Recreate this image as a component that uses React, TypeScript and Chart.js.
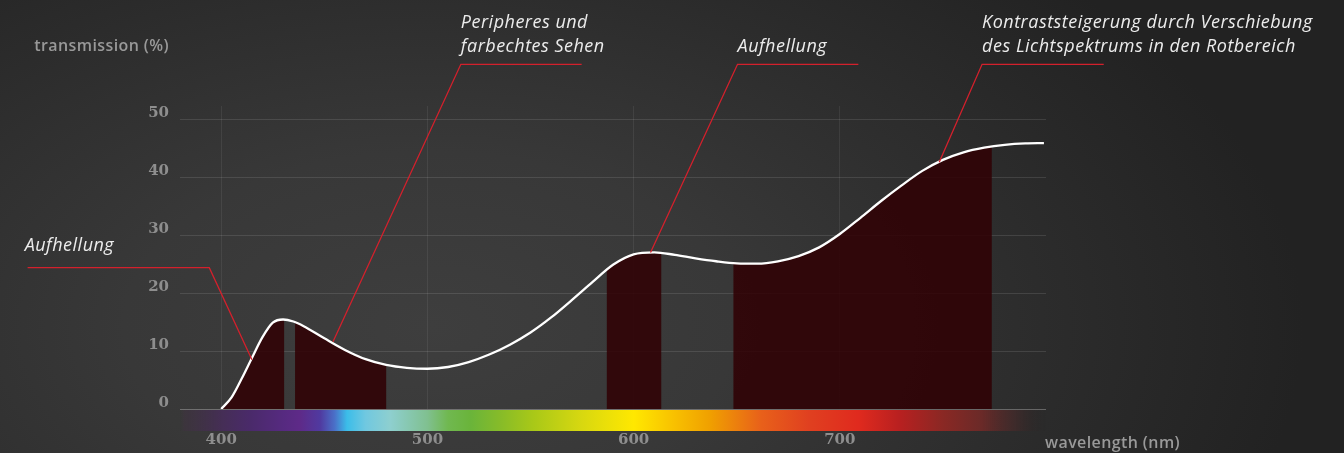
import React, { useEffect, useRef } from 'react';
import { Chart, registerables } from 'chart.js';

Chart.register(...registerables);

// ---- data ----
const WAVELENGTHS = [400, 405, 410, 415, 420, 425, 430, 435, 440, 450, 460, 470, 480, 490, 500, 510, 520, 530, 540, 550, 560, 570, 580, 590, 600, 610, 620, 630, 640, 650, 660, 670, 680, 690, 700, 710, 720, 730, 740, 750, 760, 770, 780, 790, 799];
const TRANSMISSION = [0, 2.0, 5.3, 8.9, 12.4, 14.9, 15.45, 15.1, 14.3, 12.2, 10.2, 8.6, 7.6, 7.1, 6.95, 7.25, 8.1, 9.4, 11.1, 13.2, 15.8, 18.8, 21.9, 24.9, 26.7, 27.05, 26.6, 26.0, 25.5, 25.15, 25.1, 25.5, 26.4, 27.9, 30.2, 33.0, 35.9, 38.6, 41.1, 43.0, 44.3, 45.1, 45.6, 45.85, 45.9];
const FILL_BAND_STARTS = [400, 435.8, 587, 648.4];
const FILL_BAND_ENDS = [430.5, 480, 613.4, 773.7];
const X_TICKS = [400, 500, 600, 700];
const Y_TICKS = [0, 10, 20, 30, 40, 50];
const X_MIN = 380;
const X_MAX = 800;
const Y_MAX = 52.3;

const Y_TITLE = 'transmission (%)';
const X_TITLE = 'wavelength (nm)';

const ANNOTATION_TEXTS = [
  ['Aufhellung'],
  ['Peripheres und', 'farbechtes Sehen'],
  ['Aufhellung'],
  ['Kontraststeigerung durch Verschiebung', 'des Lichtspektrums in den Rotbereich'],
];
const ANNOTATION_TARGETS = [[414.9, 8.5], [454.2, 11.6], [608.2, 27.0], [748.2, 42.6]];
const ANNOTATION_ELBOWS = [[394.2, 24.4], [516.2, 59.5], [650.4, 59.5], [769, 59.5]];
const ANNOTATION_ENDS = [306.1, 574.8, 709, 828];

const SPECTRUM_NM = [380, 382, 400, 414, 430, 438, 448, 455, 461, 470, 482, 500, 510, 521, 536, 551, 575, 600, 620, 637, 662, 685, 709, 729, 750, 769, 785, 800];
const SPECTRUM_COLORS = ['rgba(60,55,62,0)', 'rgba(63,51,64,0.6)', '#452e55', '#4a2a6a', '#562a80', '#5e2a88', '#503aa0', '#4a70c8', '#3bbde9', '#70c8e0', '#8ecfcf', '#80c090', '#70b850', '#6ab43a', '#88bc28', '#a8c818', '#d8d810', '#ffe800', '#f8c000', '#f0a000', '#e8601a', '#e04020', '#e02a1e', '#b82020', '#8a2824', '#6a2a28', 'rgba(74,42,42,0.6)', 'rgba(40,35,35,0)'];

// ---- styles ----
const FILL_COLOR = 'rgba(48,0,4,0.86)';
const RED_LINE = '#d4202c';
const ANNOT_FONT = 'italic 18px "Open Sans"';
const ANNOT_GAPS = [17, 12, 12, 12];
const LABEL_FONT = '600 16px "Open Sans"';
const TICK_COLOR = '#8e8e8e';

const bandFillPlugin = {
  id: 'bandFill',
  beforeDatasetsDraw(chart: any) {
    const { ctx, chartArea } = chart;
    const xs = chart.scales.x;
    const ys = chart.scales.y;
    const meta = chart.getDatasetMeta(0);
    const line = meta.dataset;
    if (!line || !meta.data.length) return;
    line.updateControlPoints(chartArea, 'x');
    const pts = meta.data;
    const y0 = ys.getPixelForValue(0);
    FILL_BAND_STARTS.forEach((s, i) => {
      const a = xs.getPixelForValue(s);
      const b = xs.getPixelForValue(FILL_BAND_ENDS[i]);
      ctx.save();
      ctx.beginPath();
      ctx.rect(a, chartArea.top - 50, b - a, y0 - chartArea.top + 50);
      ctx.clip();
      ctx.beginPath();
      line.path(ctx);
      ctx.lineTo(pts[pts.length - 1].x, y0);
      ctx.lineTo(pts[0].x, y0);
      ctx.closePath();
      ctx.fillStyle = FILL_COLOR;
      ctx.fill();
      ctx.restore();
    });
  },
};

const overlayPlugin = {
  id: 'overlay',
  afterDraw(chart: any) {
    const { ctx, chartArea } = chart;
    const xs = chart.scales.x;
    const ys = chart.scales.y;

    // spectrum bar
    const x0 = xs.getPixelForValue(X_MIN);
    const x1 = xs.getPixelForValue(X_MAX);
    const grad = ctx.createLinearGradient(x0, 0, x1, 0);
    SPECTRUM_NM.forEach((nm, i) => {
      grad.addColorStop((nm - X_MIN) / (X_MAX - X_MIN), SPECTRUM_COLORS[i]);
    });
    ctx.save();
    ctx.fillStyle = grad;
    ctx.fillRect(x0, chartArea.bottom + 1, x1 - x0, 21);
    ctx.restore();

    // annotations
    ctx.save();
    ctx.strokeStyle = RED_LINE;
    ctx.lineWidth = 1.3;
    ctx.font = ANNOT_FONT;
    (ctx as any).letterSpacing = '0.5px';
    ctx.fillStyle = '#ececec';
    ctx.textAlign = 'left';
    ctx.textBaseline = 'alphabetic';
    ANNOTATION_TEXTS.forEach((lines, i) => {
      const tx = xs.getPixelForValue(ANNOTATION_TARGETS[i][0]);
      const ty = ys.getPixelForValue(ANNOTATION_TARGETS[i][1]);
      const ex = xs.getPixelForValue(ANNOTATION_ELBOWS[i][0]);
      const ey = ys.getPixelForValue(ANNOTATION_ELBOWS[i][1]);
      const endx = xs.getPixelForValue(ANNOTATION_ENDS[i]);
      ctx.beginPath();
      ctx.moveTo(tx, ty);
      ctx.lineTo(ex, ey);
      ctx.lineTo(endx, ey);
      ctx.stroke();
      const left = Math.min(ex, endx) - (endx < ex ? 3 : 0);
      const base = ey - ANNOT_GAPS[i];
      lines.forEach((line, j) => {
        ctx.fillText(line, left, base - (lines.length - 1 - j) * 24);
      });
    });
    ctx.restore();

    // axis titles
    ctx.save();
    ctx.font = LABEL_FONT;
    (ctx as any).letterSpacing = '0.4px';
    ctx.fillStyle = '#999999';
    ctx.textBaseline = 'alphabetic';
    ctx.textAlign = 'right';
    ctx.fillText(Y_TITLE, chartArea.left - 11, ys.getPixelForValue(50) - 68);
    ctx.textAlign = 'left';
    ctx.fillText(X_TITLE, chartArea.right - 1, chartArea.bottom + 39);
    ctx.restore();
  },
};

export default function App() {
  const ref = useRef<HTMLCanvasElement>(null);
  useEffect(() => {
    if (!ref.current) return;
    const chart = new Chart(ref.current, {
      type: 'line',
      data: {
        datasets: [
          {
            data: WAVELENGTHS.map((w, i) => ({ x: w, y: TRANSMISSION[i] })),
            borderColor: '#ffffff',
            borderWidth: 2.3,
            pointRadius: 0,
            cubicInterpolationMode: 'monotone',
            fill: false,
          } as any,
        ],
      },
      options: {
        animation: false,
        responsive: true,
        maintainAspectRatio: false,
        layout: { padding: { left: 0, top: 106, right: 298, bottom: 0 } },
        plugins: { legend: { display: false }, tooltip: { enabled: false } },
        scales: {
          x: {
            type: 'linear',
            min: X_MIN,
            max: X_MAX,
            afterBuildTicks: (axis: any) => {
              axis.ticks = X_TICKS.map((v) => ({ value: v }));
            },
            afterFit: (axis: any) => {
              axis.height = 44;
            },
            border: { display: false },
            grid: { color: 'rgba(255,255,255,0.07)', drawTicks: false },
            ticks: {
              color: TICK_COLOR,
              font: { family: '"DejaVu Serif"', size: 15, weight: 'bold' },
              padding: 22,
              maxRotation: 0,
              callback: (v: any) => String(v),
            },
          },
          y: {
            type: 'linear',
            min: 0,
            max: Y_MAX,
            afterBuildTicks: (axis: any) => {
              axis.ticks = Y_TICKS.map((v) => ({ value: v }));
            },
            afterFit: (axis: any) => {
              axis.width = 180;
            },
            border: { display: false },
            grid: {
              color: (c: any) => (c.tick && c.tick.value === 0 ? 'rgba(255,255,255,0.28)' : 'rgba(255,255,255,0.11)'),
              drawTicks: false,
            },
            ticks: {
              color: TICK_COLOR,
              font: { family: '"DejaVu Serif"', size: 15, weight: 'bold' },
              padding: 11,
              labelOffset: -6,
              callback: (v: any) => String(v),
            },
          },
        },
      },
      plugins: [bandFillPlugin, overlayPlugin],
    } as any);
    return () => chart.destroy();
  }, []);

  return (
    <div
      style={{
        position: 'absolute',
        left: 0,
        top: 0,
        width: 1344,
        height: 453,
        background:
          'radial-gradient(ellipse 65% 110% at 32% 72%, #3e3e3e 0%, #383838 35%, #2c2c2c 70%, #222222 100%)',
      }}
    >
      <canvas ref={ref} />
    </div>
  );
}
